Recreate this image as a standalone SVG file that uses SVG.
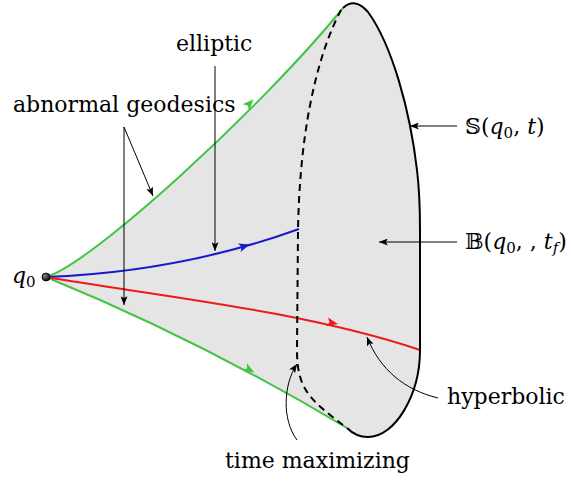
<svg xmlns="http://www.w3.org/2000/svg" width="571" height="481" viewBox="0 0 571 481">
<style>
.lbl{font-family:"DejaVu Serif","Liberation Serif",serif;font-size:22px;fill:#000}
.ann{fill:none;stroke:#000;stroke-width:1}
.geo{fill:none;stroke-width:2}
</style>
<defs>
<marker id="ah" viewBox="0 0 10 8" refX="10" refY="4" markerWidth="9" markerHeight="7" orient="auto" markerUnits="userSpaceOnUse">
<path d="M0,0 L10,4 L0,8 L2,4 Z" fill="#000"/>
</marker>
<path id="ch" d="M-6,-4.5 L5,0 L-6,4.5 L-3.5,0 Z"/>
<radialGradient id="ball" cx="0.35" cy="0.35" r="0.7">
<stop offset="0" stop-color="#888"/>
<stop offset="1" stop-color="#000"/>
</radialGradient>
</defs>
<g id="region">
<path d="M46,277 C90,265 260,110 343,8 Q355,-3 368,12 C392,45 410,110 417,170 Q420,195 420,230 L420,350 C420,395 395,437 368,437 Q356,437 347,428 Q200,340 46,277 Z" fill="#e5e5e5" stroke="none"/>
</g>
<g id="connectors">
<path id="green-upper" class="geo" d="M46,277 C90,265 260,110 343,8" stroke="#44c444"/>
<path id="green-lower" class="geo" d="M46,277 Q200,340 347,428" stroke="#44c444"/>
<path id="blue" class="geo" d="M46,277 Q180,272 299,229" stroke="#1a1acc"/>
<path id="red" class="geo" d="M46,277 C150,295 300,310 420,350" stroke="#f01818"/>
<use href="#ch" fill="#44c444" transform="translate(250,103) rotate(-47)"/>
<use href="#ch" fill="#44c444" transform="translate(250,370) rotate(29)"/>
<use href="#ch" fill="#1a1acc" transform="translate(245,246) rotate(-17)"/>
<use href="#ch" fill="#f01818" transform="translate(333,323) rotate(11)"/>
<path id="time-max-front" d="M341,10 C320,50 300,120 298,230 L297,350 C297,390 310,400 347,428" fill="none" stroke="#000" stroke-width="2" stroke-dasharray="7,5"/>
<path id="sphere" d="M343,8 Q355,-3 368,12 C392,45 410,110 417,170 Q420,195 420,230 L420,350 C420,395 395,437 368,437 Q356,437 347,428" fill="none" stroke="#000" stroke-width="2"/>
<path class="ann" d="M215,66 L215,251" marker-end="url(#ah)"/>
<path class="ann" d="M124,127 L124,305" marker-end="url(#ah)"/>
<path class="ann" d="M124,127 L153,196" marker-end="url(#ah)"/>
<path class="ann" d="M457,126 L410,126" marker-end="url(#ah)"/>
<path class="ann" d="M457,242 L379,242" marker-end="url(#ah)"/>
<path class="ann" d="M438,398 C405,390 380,370 367,337" marker-end="url(#ah)"/>
<path class="ann" d="M297,440 C282,420 283,385 297,364" marker-end="url(#ah)"/>
</g>
<g id="q0">
<circle cx="46" cy="277" r="4" fill="url(#ball)" stroke="#000" stroke-width="0.8"/>
<text class="lbl" x="12" y="283"><tspan font-style="italic">q</tspan><tspan font-size="15" dy="4">0</tspan></text>
</g>
<g id="elliptic"><text class="lbl" x="176" y="51">elliptic</text></g>
<g id="abnormal"><text class="lbl" x="13" y="112">abnormal geodesics</text></g>
<g id="S"><text class="lbl" x="465" y="134">𝕊(<tspan font-style="italic">q</tspan><tspan font-size="15" dy="4">0</tspan><tspan dy="-4">, </tspan><tspan font-style="italic">t</tspan>)</text></g>
<g id="B"><text class="lbl" x="465" y="249">𝔹(<tspan font-style="italic">q</tspan><tspan font-size="15" dy="4">0</tspan><tspan dy="-4">, , </tspan><tspan font-style="italic">t</tspan><tspan font-size="15" font-style="italic" dy="4">f</tspan><tspan dy="-4">)</tspan></text></g>
<g id="hyperbolic"><text class="lbl" x="447" y="404">hyperbolic</text></g>
<g id="timemax"><text class="lbl" x="225" y="468">time maximizing</text></g>
</svg>
